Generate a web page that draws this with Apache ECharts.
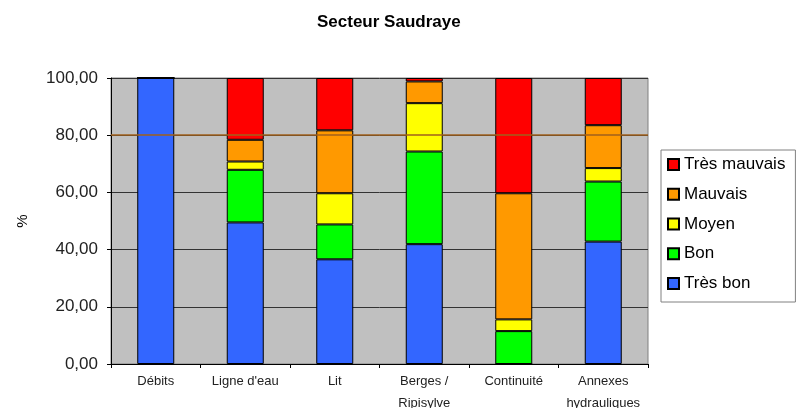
<!DOCTYPE html>
<html>
<head>
<meta charset="utf-8">
<script src="https://cdn.jsdelivr.net/npm/echarts@6/dist/echarts.min.js"></script>
<style>
  html, body { margin: 0; padding: 0; background: #fff; }
  #chart { width: 796px; height: 408px; }
</style>
</head>
<body>
<div id="chart"></div>
<script>
// categories of the sector
const categories = ['Débits', "Ligne d'eau", 'Lit', 'Berges /\nRipisylve', 'Continuité', 'Annexes\nhydrauliques']
// percentages, bottom to top
const tresBon = [100, 49.5, 36.6, 41.9, 0, 42.8]
const bon = [0, 18.4, 12.2, 32.4, 11.5, 21.0]
const moyen = [0, 2.9, 10.9, 16.9, 4.1, 4.7]
const mauvais = [0, 7.6, 22.0, 7.6, 44.1, 15.0]
const tresMauvais = [0, 21.6, 18.3, 1.2, 40.3, 16.5]
const thresholdValue = 80

const font = 'Liberation Sans, Arial, sans-serif'
const chart = echarts.init(document.getElementById('chart'))

function makeSeries(name, data, color) {
  return {
    name: name,
    type: 'bar',
    stack: 'total',
    barWidth: 37,
    data: data,
    itemStyle: { color: color, borderColor: '#000', borderWidth: 1 }
  }
}

const series = [
  makeSeries('Très bon', tresBon, '#3366ff'),
  makeSeries('Bon', bon, '#00ff00'),
  makeSeries('Moyen', moyen, '#ffff00'),
  makeSeries('Mauvais', mauvais, '#ff9900'),
  makeSeries('Très mauvais', tresMauvais, '#ff0000'),
  {
    // brown threshold line at 80 %
    name: 'seuil',
    type: 'line',
    data: [],
    z: 10,
    markLine: {
      silent: true,
      symbol: ['none', 'none'],
      label: { show: false },
      lineStyle: { color: '#a0601c', type: 'solid', width: 1.5 },
      data: [{ yAxis: thresholdValue }]
    }
  }
]

const option = {
  animation: false,
  textStyle: { fontFamily: font },
  title: {
    text: 'Secteur Saudraye',
    left: 312,
    top: 9,
    textStyle: { fontFamily: font, fontSize: 17, fontWeight: 'bold', color: '#000' }
  },
  legend: {
    orient: 'vertical',
    left: 661,
    top: 150,
    data: ['Très mauvais', 'Mauvais', 'Moyen', 'Bon', 'Très bon'],
    icon: 'rect',
    itemWidth: 11,
    itemHeight: 11,
    itemGap: 12.75,
    padding: [6, 10, 10, 6],
    borderColor: '#808080',
    borderWidth: 1,
    textStyle: { fontFamily: font, fontSize: 17, color: '#000' }
  },
  grid: {
    left: 111,
    right: 148,
    top: 78,
    bottom: 44,
    show: true,
    containLabel: false,
    outerBoundsMode: 'none',
    backgroundColor: '#c0c0c0',
    borderColor: '#808080',
    borderWidth: 1
  },
  xAxis: {
    type: 'category',
    data: categories,
    axisLine: { lineStyle: { color: '#000' } },
    axisTick: { show: true, length: 4, lineStyle: { color: '#000' } },
    axisLabel: { interval: 0, margin: 6, fontSize: 13, lineHeight: 22, color: '#222', fontFamily: font },
    splitLine: { show: false }
  },
  yAxis: {
    type: 'value',
    min: 0,
    max: 100,
    interval: 20,
    name: '%',
    nameLocation: 'middle',
    nameGap: 81,
    nameRotate: 90,
    nameTextStyle: { fontFamily: font, fontSize: 15, color: '#000' },
    axisLine: { show: true, lineStyle: { color: '#000' } },
    axisTick: { show: true, length: 4, lineStyle: { color: '#000' } },
    axisLabel: {
      fontSize: 17,
      color: '#222',
      margin: 13,
      fontFamily: font,
      formatter: v => v.toFixed(2).replace('.', ',')
    },
    splitLine: { show: true, lineStyle: { color: '#333', width: 1 } }
  },
  series: series
}

chart.setOption(option)
</script>
</body>
</html>
